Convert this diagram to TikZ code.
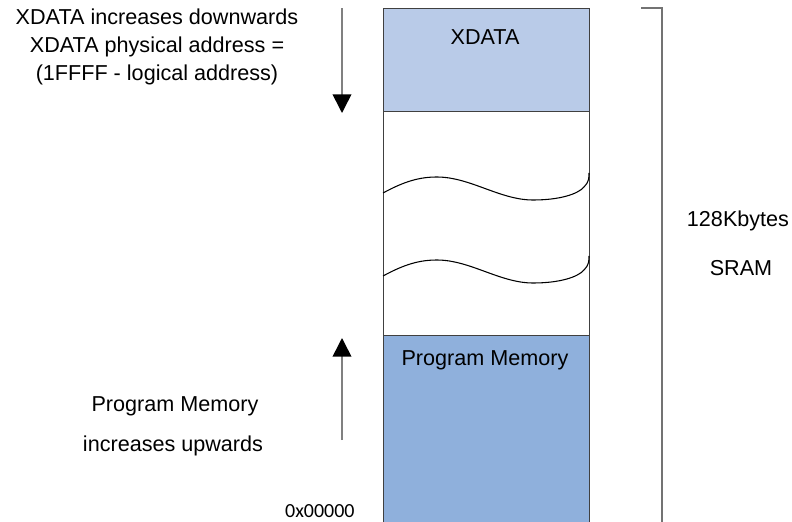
\documentclass[tikz,border=0pt]{standalone}
\usepackage{fontspec}
\setmainfont{Liberation Sans}
\newfontfamily\calibrifont{Carlito}
\usetikzlibrary{arrows.meta,positioning}
\definecolor{xdatablue}{HTML}{B9CBE8}
\definecolor{progblue}{HTML}{8FB0DC}
\begin{document}
\begin{tikzpicture}[x=0.75pt,y=-0.75pt,font=\fontsize{16.2}{19}\selectfont, semithick]
\tikzstyle{every node}=[inner sep=0pt]
\tikzstyle{memblock}=[draw=black!75,line width=0.8pt,minimum width=206*0.75pt,anchor=north west]
\tikzstyle{growarrow}=[draw=black!50,line width=1.2pt,-{Triangle[black,length=14pt,width=14pt]}]
\tikzstyle{note}=[align=center]
\useasboundingbox (0,0) rectangle (792,521);
% memory column
\node[memblock,fill=xdatablue,minimum height=103*0.75pt] (xdata) at (383,8) {};
\node[memblock,minimum height=224*0.75pt] (gap) at (383,111) {};
\node[memblock,fill=progblue,minimum height=188*0.75pt] (prog) at (383,335) {};
\node at (485,37) {XDATA};
\node at (485,360) {Program Memory};
% break lines
\foreach \dy in {0,83}{
  \draw[line width=0.8pt] (383,193+\dy) .. controls (405,181+\dy) and (420,177+\dy) .. (437,177+\dy)
    .. controls (470,177+\dy) and (500,200+\dy) .. (533,200+\dy)
    .. controls (560,200+\dy) and (578,194+\dy) .. (584,187+\dy)
    .. controls (589,182+\dy) and (589,178+\dy) .. (589,173+\dy);
}
% size bracket
\draw[black!55,line width=1.2pt] (641,8) -- (662,8) -- (662,522);
\node (size) at (738,221) {128Kbytes};
\node (sram) at (741,268) {SRAM};
% direction notes
\node[note] (xnote) at (157,47) {XDATA increases downwards\\[2pt]XDATA physical address =\\[2pt](1FFFF - logical address)};
\coordinate (xtop) at (342,8);
\coordinate (xend) at (342,113);
\draw[growarrow] (xtop) -- (xend);
\coordinate (ptop) at (342,338);
\coordinate (pstart) at (342,440);
\draw[growarrow] (pstart) -- (ptop);
\node (pnote) at (175,406) {Program Memory};
\node (pnote2) at (173,446) {increases upwards};
\node[anchor=east,font=\calibrifont\fontsize{15}{18}\selectfont] (zero) at (355,511) {0x00000};
\end{tikzpicture}
\end{document}
